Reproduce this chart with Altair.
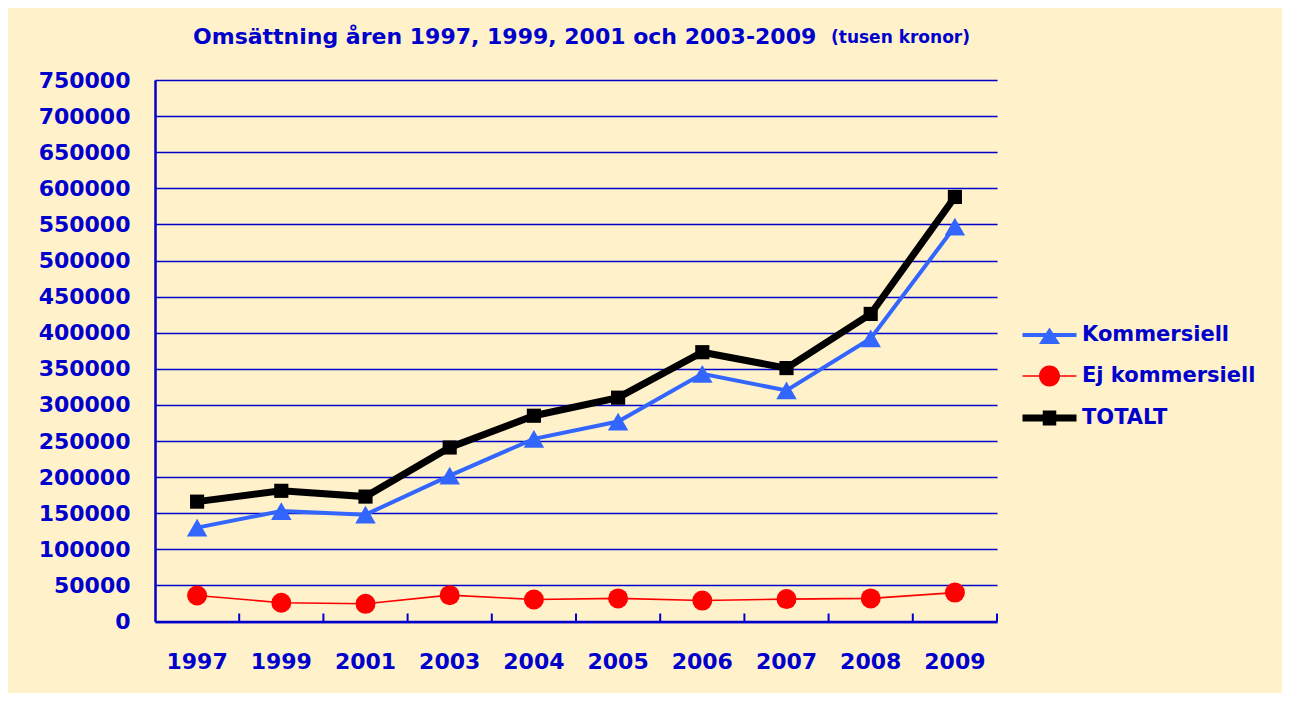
import altair as alt
import pandas as pd

# ---- data ----
years = ["1997", "1999", "2001", "2003", "2004", "2005", "2006", "2007", "2008", "2009"]
kommersiell = [130000, 153000, 148000, 202000, 253000, 277000, 343000, 320000, 392000, 547000]
ej_kommersiell = [36000, 26000, 24500, 36500, 30500, 32000, 29000, 31000, 32000, 40000]
totalt = [166000, 181000, 173000, 241000, 285000, 310000, 373000, 351000, 426000, 588000]
series = ["Kommersiell", "Ej kommersiell", "TOTALT"]
y_ticks = [0, 50000, 100000, 150000, 200000, 250000, 300000, 350000,
           400000, 450000, 500000, 550000, 600000, 650000, 700000, 750000]
title_main = "Omsättning åren 1997, 1999, 2001 och 2003-2009"
title_unit = "(tusen kronor)"

rows = []
for name, vals in zip(series, [kommersiell, ej_kommersiell, totalt]):
    for yr, v in zip(years, vals):
        rows.append({"year": yr, "serie": name, "value": v})
df = pd.DataFrame(rows)
df_years = pd.DataFrame({"year": years})

# ---- style ----
BLUE = "#0000CC"
BG = "#FFF1CA"
FONT = "DejaVu Sans"
W, H = 842, 541.5

x_scale = alt.Scale(type="band", paddingInner=0, paddingOuter=0)
x_axis = alt.Axis(title=None, labelAngle=0, ticks=False, grid=False,
                  domainColor=BLUE, domainWidth=2.5, labelColor=BLUE,
                  labelFont=FONT, labelFontSize=22, labelFontWeight="bold",
                  labelPadding=30)
y_scale = alt.Scale(domain=[0, 750000], nice=False, zero=True)
y_axis = alt.Axis(title=None, values=y_ticks, format="d", grid=True,
                  gridColor=BLUE, gridWidth=1.6, gridOpacity=1,
                  domainColor=BLUE, domainWidth=2.5, ticks=False,
                  labelColor=BLUE, labelFont=FONT, labelFontSize=22,
                  labelFontWeight="bold", labelPadding=25)
series_colors = ["#3366FF", "#FF0000", "#000000"]
line_widths = [4, 1.6, 7]
marker_shapes = ["triangle-up", "circle", "square"]
marker_sizes = [420, 400, 200]

# legend symbols: line segment + marker, drawn as filled custom paths
legend_paths = [
    "M-1.8,-0.133H1.8V0.133H-1.8Z M0,-0.5L0.7,0.6H-0.7Z",
    "M-1.8,-0.05H1.8V0.05H-1.8Z M-0.7,0A0.7,0.7,0,1,1,0.7,0A0.7,0.7,0,1,1,-0.7,0Z",
    "M-1.8,-0.24H1.8V0.24H-1.8Z M-0.45,-0.5H0.45V0.5H-0.45Z",
]

legend = alt.Legend(
    title=None, orient="none", legendX=879.5, legendY=240, padding=0,
    symbolSize=900, symbolStrokeWidth=0, symbolOpacity=1, rowPadding=16,
    labelOffset=17.5, labelFont=FONT, labelFontSize=21, labelLimit=400,
    labelFontWeight="bold", labelColor=BLUE,
)

xe = dict(sort=years, scale=x_scale, axis=x_axis)
ye = alt.Y("value:Q", scale=y_scale, axis=y_axis)

layers = []
for name, col, lw in zip(series, series_colors, line_widths):
    layers.append(
        alt.Chart(df).transform_filter(alt.datum.serie == name)
        .mark_line(color=col, strokeWidth=lw, strokeCap="round", strokeJoin="miter")
        .encode(x=alt.X("year:O", bandPosition=0.5, **xe), y=ye)
    )
for name, col, shp, sz in zip(series, series_colors, marker_shapes, marker_sizes):
    layers.append(
        alt.Chart(df).transform_filter(alt.datum.serie == name)
        .mark_point(filled=True, opacity=1, shape=shp, size=sz, color=col)
        .encode(x=alt.X("year:O", bandPosition=0.5, **xe), y=ye)
    )

legend_layer = alt.Chart(df).transform_filter(alt.datum.value < 0).mark_point(
    filled=True, opacity=1
).encode(
    x=alt.X("year:O", bandPosition=0.5, **xe),
    y=ye,
    color=alt.Color("serie:N", scale=alt.Scale(domain=series, range=series_colors),
                    sort=series, legend=legend),
    shape=alt.Shape("serie:N", scale=alt.Scale(domain=series, range=legend_paths),
                    sort=series, legend=legend),
)

ticks = alt.Chart(df_years).mark_rule(color=BLUE, strokeWidth=2).encode(
    x=alt.X("year:O", bandPosition=1, **xe),
    y=alt.value(H),
    y2=alt.value(H - 8),
)

t_main = alt.Chart(pd.DataFrame({"t": [title_main]})).mark_text(
    align="left", baseline="middle", font=FONT, fontSize=22,
    fontWeight="bold", color=BLUE,
).encode(text="t:N", x=alt.value(38), y=alt.value(-43))

t_unit = alt.Chart(pd.DataFrame({"t": [title_unit]})).mark_text(
    align="left", baseline="middle", font=FONT, fontSize=17,
    fontWeight="bold", color=BLUE,
).encode(text="t:N", x=alt.value(676), y=alt.value(-42))

chart = alt.layer(*layers, ticks, legend_layer, t_main, t_unit).properties(
    width=W, height=H,
    padding={"left": 147, "top": 72, "right": 285, "bottom": 71.5},
    autosize=alt.AutoSizeParams(type="none"),
).configure(background=BG).configure_view(stroke=None)

chart.save("out.html", embed_options={"renderer": "svg", "actions": False})
